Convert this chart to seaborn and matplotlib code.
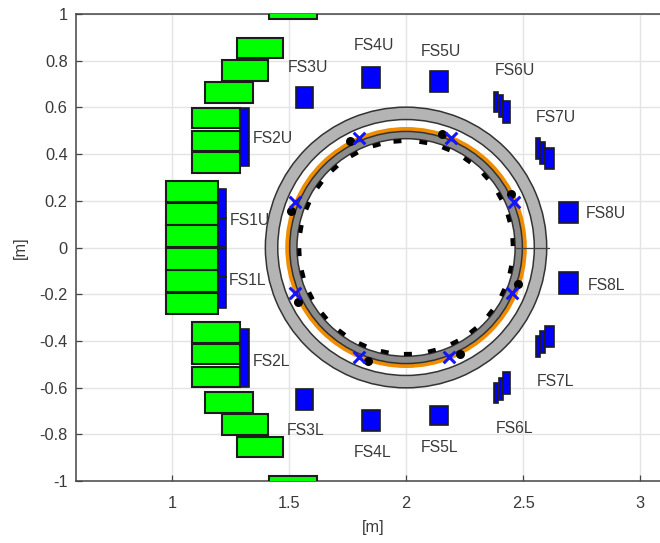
import numpy as np
import pandas as pd
import seaborn as sns
import matplotlib
matplotlib.use("Agg")
import matplotlib.pyplot as plt
from matplotlib.patches import Rectangle, Wedge

# bobinas verdes (mitad superior), x0, x1, y0, y1
green_x0 = [1.276, 1.212, 1.141, 1.085, 1.085, 1.085, 0.974, 0.974, 0.974, 1.416]
green_x1 = [1.473, 1.411, 1.347, 1.291, 1.291, 1.291, 1.195, 1.195, 1.195, 1.621]
green_y0 = [0.813, 0.715, 0.618, 0.510, 0.415, 0.320, 0.194, 0.098, 0.003, 0.977]
green_y1 = [0.898, 0.804, 0.708, 0.598, 0.501, 0.407, 0.286, 0.190, 0.095, 1.060]

# bobinas azules superiores
blue_up_x0 = [1.291, 1.195, 1.195, 1.530, 1.812, 2.103, 2.377, 2.397, 2.416, 2.554, 2.572, 2.593, 2.655]
blue_up_x1 = [1.330, 1.230, 1.230, 1.604, 1.889, 2.180, 2.394, 2.416, 2.446, 2.572, 2.593, 2.633, 2.736]
blue_up_y0 = [0.348, 0.003, 0.125, 0.597, 0.685, 0.668, 0.580, 0.561, 0.535, 0.380, 0.358, 0.337, 0.104]
blue_up_y1 = [0.598, 0.125, 0.251, 0.689, 0.775, 0.754, 0.668, 0.651, 0.627, 0.470, 0.451, 0.425, 0.197]

# bobinas azules inferiores
blue_lo_x0 = [1.291, 1.195, 1.195, 1.530, 1.812, 2.103, 2.377, 2.397, 2.416, 2.554, 2.572, 2.593, 2.655]
blue_lo_x1 = [1.330, 1.230, 1.230, 1.604, 1.889, 2.180, 2.394, 2.416, 2.446, 2.572, 2.593, 2.633, 2.736]
blue_lo_y0 = [-0.598, -0.125, -0.257, -0.698, -0.784, -0.762, -0.668, -0.651, -0.627, -0.470, -0.451, -0.425, -0.201]
blue_lo_y1 = [-0.348, -0.003, -0.125, -0.608, -0.694, -0.677, -0.580, -0.561, -0.535, -0.380, -0.358, -0.337, -0.107]

# radios de la camara
center_x = 2.0
outer_ring = [0.548, 0.601]
orange_ring = [0.497, 0.516]
gray_ring = [0.466, 0.497]

# losetas (angulo en grados)
tile_r = 0.456
tile_angles = [2.9, 15.9, 28.8, 42, 55, 68, 80.7, 94.6, 106, 119, 132, 144, 157, 170,
               182.5, 194.5, 207, 220, 233, 246, 258.5, 271, 284, 297, 309, 322, 335, 348]

cross_x = [1.526, 1.80, 2.19, 2.46, 1.526, 1.80, 2.184, 2.454]
cross_y = [0.193, 0.47, 0.47, 0.193, -0.193, -0.47, -0.47, -0.196]
dot_x = [1.507, 1.761, 2.153, 2.449, 1.538, 1.838, 2.231, 2.477]
dot_y = [0.158, 0.455, 0.484, 0.227, -0.234, -0.487, -0.455, -0.158]

label_names = ["FS1U", "FS1L", "FS2U", "FS2L", "FS3U", "FS3L", "FS4U", "FS4L",
               "FS5U", "FS5L", "FS6U", "FS6L", "FS7U", "FS7L", "FS8U", "FS8L"]
label_x = [1.333, 1.325, 1.432, 1.425, 1.58, 1.573, 1.863, 1.859,
           2.15, 2.145, 2.466, 2.462, 2.641, 2.637, 2.855, 2.855]
label_y = [0.116, -0.141, 0.467, -0.488, 0.771, -0.784, 0.865, -0.878,
           0.839, -0.857, 0.758, -0.775, 0.557, -0.574, 0.146, -0.163]

x_ticks = [1, 1.5, 2, 2.5, 3]
x_tick_labels = ["1", "1.5", "2", "2.5", "3"]
y_ticks = [-1, -0.8, -0.6, -0.4, -0.2, 0, 0.2, 0.4, 0.6, 0.8, 1]
y_tick_labels = ["-1", "-0.8", "-0.6", "-0.4", "-0.2", "0", "0.2", "0.4", "0.6", "0.8", "1"]

sns.set_theme(style="whitegrid")
plt.rcParams["font.family"] = ["Liberation Sans", "DejaVu Sans"]

TXT = "#3a3a3a"
EDGE = "#1c1c1c"

fig = plt.figure(figsize=(6.6, 5.43), dpi=100)
ax = fig.add_axes([76 / 660, 62 / 543, 584 / 660, 467 / 543])


def add_rect(x0, x1, y0, y1, color, lw=1.5):
    ax.add_patch(Rectangle((x0, y0), x1 - x0, y1 - y0, facecolor=color,
                           edgecolor=EDGE, linewidth=lw, zorder=3))


# anillos
for r, color in [(outer_ring, "#b4b4b4"), (orange_ring, "#f08c00"), (gray_ring, "#8c8c8c")]:
    edge = "none" if color == "#f08c00" else "#333333"
    ax.add_patch(Wedge((center_x, 0), r[1], 0, 360, width=r[1] - r[0], facecolor=color,
                       edgecolor=edge, linewidth=1.1, zorder=2))
ax.plot([center_x + gray_ring[0], center_x + outer_ring[1] + 0.01], [0, 0], color="#444444", lw=0.9, zorder=2.5)

# losetas
for a in tile_angles:
    t = np.radians(a)
    tx, ty = -np.sin(t) * 0.017, np.cos(t) * 0.017
    cx, cy = center_x + tile_r * np.cos(t), tile_r * np.sin(t)
    ax.plot([cx - tx, cx + tx], [cy - ty, cy + ty], color="black", lw=3,
            solid_capstyle="butt", zorder=2.6)

# bobinas
for i in range(len(green_x0)):
    add_rect(green_x0[i], green_x1[i], green_y0[i], green_y1[i], "#00ff00")
    add_rect(green_x0[i], green_x1[i], -green_y1[i], -green_y0[i], "#00ff00")
for i in range(len(blue_up_x0)):
    add_rect(blue_up_x0[i], blue_up_x1[i], blue_up_y0[i], blue_up_y1[i], "#0000ff", lw=1.2)
    add_rect(blue_lo_x0[i], blue_lo_x1[i], blue_lo_y0[i], blue_lo_y1[i], "#0000ff", lw=1.2)

dots = pd.DataFrame({"x": dot_x, "y": dot_y})
crosses = pd.DataFrame({"x": cross_x, "y": cross_y})
sns.scatterplot(data=dots, x="x", y="y", color="black", s=42, linewidth=0, ax=ax, zorder=4)
sns.scatterplot(data=crosses, x="x", y="y", color="#1414ff", marker="x", s=70, linewidth=2.2, ax=ax, zorder=5)

for name, lx, ly in zip(label_names, label_x, label_y):
    ax.text(lx, ly, name, ha="center", va="center", fontsize=11.3, color=TXT, zorder=6)

ax.set_xlim(0.59, 3.085)
ax.set_ylim(-1, 1)
ax.set_xticks(x_ticks)
ax.set_xticklabels(x_tick_labels)
ax.set_yticks(y_ticks)
ax.set_yticklabels(y_tick_labels)
ax.grid(True, color="#e4e4e4", linewidth=1.0)
ax.set_axisbelow(True)
ax.tick_params(axis="both", direction="in", length=4, width=0.9, color="#444444",
               labelsize=11.8, labelcolor=TXT, left=True, bottom=True)
ax.tick_params(axis="y", pad=6)
ax.tick_params(axis="x", pad=11)
for side in ["left", "bottom", "top"]:
    ax.spines[side].set_visible(True)
    ax.spines[side].set_color("#444444")
    ax.spines[side].set_linewidth(1.1)
ax.spines["right"].set_visible(False)

ax.set_xlabel("[m]", fontsize=11.8, color=TXT, x=(373 - 76) / 584, labelpad=6)
ax.set_ylabel("[m]", fontsize=11.8, color=TXT, labelpad=8)

plt.savefig("out.png", dpi=100)
